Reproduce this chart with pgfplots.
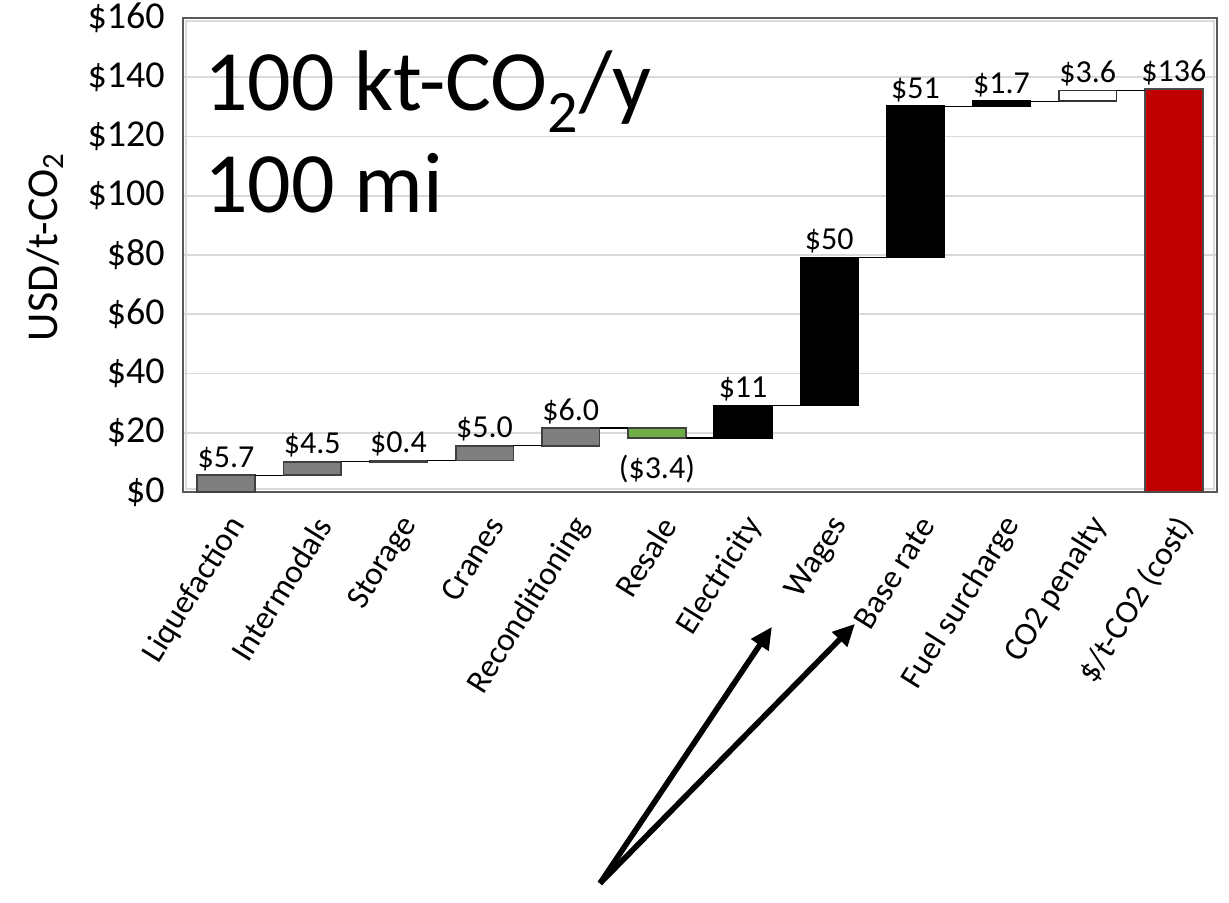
\documentclass[border=0pt]{standalone}
\usepackage{fontspec}
\setmainfont{Carlito}
\usepackage{pgfplots}
\pgfplotsset{compat=1.18}
\usetikzlibrary{arrows.meta}

\definecolor{barGray}{RGB}{127,127,127}
\definecolor{barGreen}{RGB}{112,173,71}
\definecolor{barRed}{RGB}{192,0,0}
\definecolor{gridGray}{RGB}{217,217,217}
\definecolor{frameGray}{RGB}{89,89,89}

\begin{document}
\begin{tikzpicture}
\useasboundingbox (-91.5pt,-205.5pt) rectangle (523pt,246pt);
\begin{axis}[
  scale only axis,
  width=517pt, height=237pt,
  xmin=-0.5, xmax=11.5,
  ymin=0, ymax=160,
  clip=false,
  axis line style={draw=frameGray, line width=1.2pt},
  ymajorgrids,
  major grid style={draw=gridGray, line width=0.9pt},
  major tick length=0pt,
  ytick={0,20,...,160},
  yticklabels={\$0,\$20,\$40,\$60,\$80,\$100,\$120,\$140,\$160},
  yticklabel style={font=\fontsize{19}{22}\selectfont, inner sep=0pt, xshift=-9pt},
  xtick={0,...,11},
  xticklabels={Liquefaction,Intermodals,Storage,Cranes,Reconditioning,Resale,Electricity,Wages,Base rate,Fuel surcharge,CO2 penalty,\$/t-CO2 (cost)},
  xticklabel style={font=\fontsize{16.5}{19}\selectfont, xshift=6pt, yshift=-14pt, rotate=58, anchor=east, inner sep=0pt},
  ylabel={USD/t-CO\textsubscript{2}},
  ylabel style={font=\fontsize{22}{26}\selectfont, at={(axis description cs:-0.133,0.517)}, anchor=center},
  unbounded coords=jump,
]
% thin light inner rim of the plot frame
\draw[gridGray, line width=0.8pt] (rel axis cs:0,0) ++(1.4pt,1.4pt) rectangle ([xshift=-1.4pt,yshift=-1.4pt]rel axis cs:1,1);

% cost bars: each one floats from the running total before it to the running total after it
\addplot[fill=barGray, draw=black!75, line width=0.8pt] coordinates {(-0.335,0) (0.335,0) (0.335,5.7) (-0.335,5.7)} --cycle;
\addplot[fill=barGray, draw=black!75, line width=0.8pt] coordinates {(0.665,5.7) (1.335,5.7) (1.335,10.2) (0.665,10.2)} --cycle;
\addplot[fill=barGray, draw=black!75, line width=0.8pt] coordinates {(1.665,10.2) (2.335,10.2) (2.335,10.6) (1.665,10.6)} --cycle;
\addplot[fill=barGray, draw=black!75, line width=0.8pt] coordinates {(2.665,10.6) (3.335,10.6) (3.335,15.6) (2.665,15.6)} --cycle;
\addplot[fill=barGray, draw=black!75, line width=0.8pt] coordinates {(3.665,15.6) (4.335,15.6) (4.335,21.6) (3.665,21.6)} --cycle;
\addplot[fill=barGreen, draw=black!75, line width=0.8pt] coordinates {(4.665,18.2) (5.335,18.2) (5.335,21.6) (4.665,21.6)} --cycle;
\addplot[fill=black, draw=black, line width=0.8pt] coordinates {(5.665,18.2) (6.335,18.2) (6.335,29.2) (5.665,29.2)} --cycle;
\addplot[fill=black, draw=black, line width=0.8pt] coordinates {(6.665,29.2) (7.335,29.2) (7.335,79.2) (6.665,79.2)} --cycle;
\addplot[fill=black, draw=black, line width=0.8pt] coordinates {(7.665,79.2) (8.335,79.2) (8.335,130.2) (7.665,130.2)} --cycle;
\addplot[fill=black, draw=black, line width=0.8pt] coordinates {(8.665,130.2) (9.335,130.2) (9.335,131.9) (8.665,131.9)} --cycle;
\addplot[fill=white, draw=black!80, line width=0.8pt] coordinates {(9.665,131.9) (10.335,131.9) (10.335,135.5) (9.665,135.5)} --cycle;
\addplot[fill=barRed, draw=black!70, line width=0.8pt] coordinates {(10.665,0) (11.335,0) (11.335,136) (10.665,136)} --cycle;

% connector lines between consecutive bars
\addplot[black, line width=0.6pt] coordinates {
  (0.335,5.7) (0.665,5.7) (0.5,nan)
  (1.335,10.2) (1.665,10.2) (1.5,nan)
  (2.335,10.6) (2.665,10.6) (2.5,nan)
  (3.335,15.6) (3.665,15.6) (3.5,nan)
  (4.335,21.6) (4.665,21.6) (4.5,nan)
  (5.335,18.2) (5.665,18.2) (5.5,nan)
  (6.335,29.2) (6.665,29.2) (6.5,nan)
  (7.335,79.2) (7.665,79.2) (7.5,nan)
  (8.335,130.2) (8.665,130.2) (8.5,nan)
  (9.335,131.9) (9.665,131.9) (9.5,nan)
  (10.335,135.5) (10.665,135.5)
};

% value labels
\begin{scope}[every node/.style={font=\fontsize{16}{19}\selectfont, anchor=base, inner sep=0pt}]
\node[yshift=4pt] at (axis cs:0,5.7) {\$5.7};
\node[yshift=4pt] at (axis cs:1,10.2) {\$4.5};
\node[yshift=4pt] at (axis cs:2,10.6) {\$0.4};
\node[yshift=4pt] at (axis cs:3,15.6) {\$5.0};
\node[yshift=4pt] at (axis cs:4,21.6) {\$6.0};
\node[yshift=-20pt] at (axis cs:5,18.2) {(\$3.4)};
\node[yshift=4pt] at (axis cs:6,29.2) {\$11};
\node[yshift=4pt] at (axis cs:7,79.2) {\$50};
\node[yshift=4pt] at (axis cs:8,130.2) {\$51};
\node[yshift=4pt] at (axis cs:9,131.9) {\$1.7};
\node[yshift=4pt] at (axis cs:10,135.5) {\$3.6};
\node[yshift=4pt] at (axis cs:11,136) {\$136};
\end{scope}

% scenario caption
\node[anchor=base west, inner sep=0pt, font=\fontsize{43}{51}\selectfont] at (axis cs:-0.26,128.7) {100 kt-CO\textsubscript{2}/y};
\node[anchor=base west, inner sep=0pt, font=\fontsize{43}{51}\selectfont] at (axis cs:-0.26,94.4) {100 mi};

% pointers to the transport cost items
\draw[line width=2.8pt, -{Triangle[length=11pt,width=10pt]}] (axis cs:4.339,-132.1) -- (axis cs:6.335,-45.5);
\draw[line width=2.8pt, -{Triangle[length=11pt,width=10pt]}] (axis cs:4.339,-132.1) -- (axis cs:7.299,-44.5);
\end{axis}
\end{tikzpicture}
\end{document}
